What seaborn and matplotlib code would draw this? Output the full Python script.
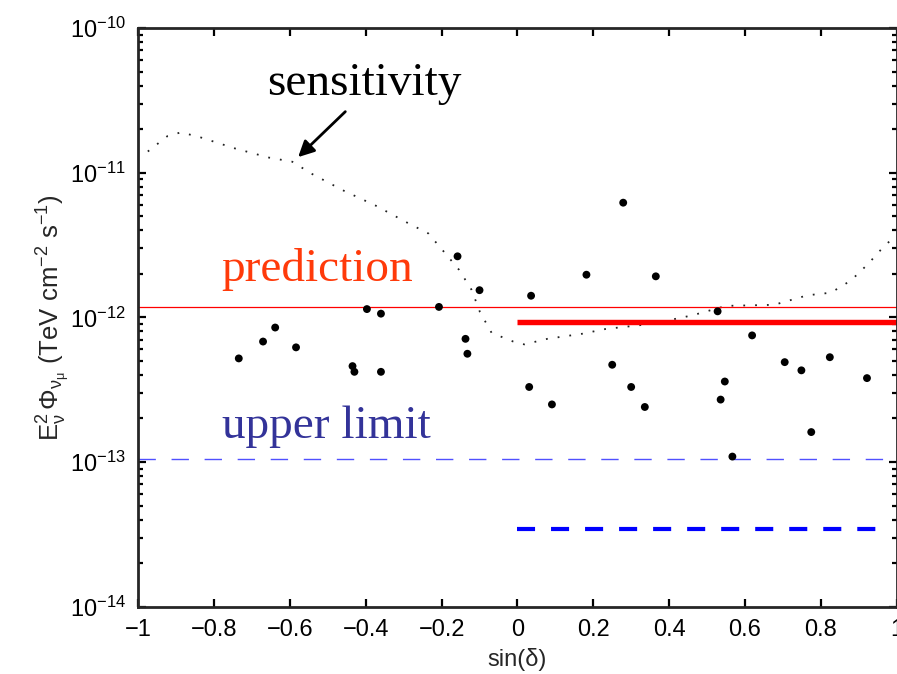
import numpy as np
import pandas as pd
import matplotlib
matplotlib.use("Agg")
import matplotlib.pyplot as plt
import seaborn as sns
from matplotlib.ticker import LogLocator, NullLocator, FixedLocator

# source points: sin(declination) and E^2 flux upper limit (TeV cm^-2 s^-1)
src_sindec = [-0.735, -0.671, -0.639, -0.584, -0.435, -0.430, -0.397, -0.360, -0.360,
              -0.207, -0.158, -0.100, -0.137, -0.132, 0.036, 0.182, 0.279, 0.365,
              0.031, 0.091, 0.250, 0.300, 0.336, 0.528, 0.619, 0.547, 0.536, 0.567,
              0.705, 0.749, 0.824, 0.775, 0.922]
src_flux = [5.2e-13, 6.8e-13, 8.5e-13, 6.2e-13, 4.6e-13, 4.2e-13, 1.14e-12, 1.06e-12, 4.2e-13,
            1.18e-12, 2.64e-12, 1.54e-12, 7.1e-13, 5.6e-13, 1.41e-12, 1.97e-12, 6.2e-12, 1.92e-12,
            3.3e-13, 2.5e-13, 4.7e-13, 3.3e-13, 2.4e-13, 1.10e-12, 7.5e-13, 3.6e-13, 2.7e-13, 1.09e-13,
            4.9e-13, 4.3e-13, 5.3e-13, 1.61e-13, 3.8e-13]

# sensitivity curve
sens_sindec = [-0.975, -0.923, -0.887, -0.835, -0.745, -0.655, -0.594, -0.542, -0.458,
               -0.373, -0.290, -0.235, -0.194, -0.154, -0.121, -0.099, -0.068, -0.011,
               0.018, 0.079, 0.171, 0.232, 0.352, 0.460, 0.551, 0.677, 0.765, 0.827,
               0.880, 0.925, 0.967, 0.995]
sens_flux = [1.40e-11, 1.79e-11, 1.90e-11, 1.75e-11, 1.47e-11, 1.27e-11, 1.19e-11, 9.8e-12, 7.5e-12,
             5.9e-12, 4.5e-12, 3.8e-12, 2.84e-12, 2.13e-12, 1.55e-12, 1.09e-12, 7.8e-13, 6.8e-13,
             6.5e-13, 7.1e-13, 7.7e-13, 8.3e-13, 9.0e-13, 1.03e-12, 1.20e-12, 1.22e-12, 1.42e-12, 1.48e-12,
             1.80e-12, 2.34e-12, 3.10e-12, 3.6e-12]

pred_level = 1.18e-12      # prediction, full sky
pred_stack = 9.3e-13       # prediction, northern stack
ul_level = 1.05e-13        # upper limit, full sky
ul_stack = 3.45e-14        # upper limit, northern stack

x_ticks = [-1, -0.8, -0.6, -0.4, -0.2, 0, 0.2, 0.4, 0.6, 0.8, 1]
x_ticklabels = ["\u22121", "\u22120.8", "\u22120.6", "\u22120.4", "\u22120.2", "0", "0.2", "0.4", "0.6", "0.8", "1"]
y_ticks = [1e-14, 1e-13, 1e-12, 1e-11, 1e-10]

df = pd.DataFrame({"sindec": src_sindec, "flux": src_flux})
sens = pd.DataFrame({"sindec": sens_sindec, "flux": sens_flux})

sns.set_style("ticks")
plt.rcParams["font.family"] = ["Liberation Sans", "DejaVu Sans"]
plt.rcParams["mathtext.fontset"] = "custom"
plt.rcParams["mathtext.rm"] = "Liberation Sans"
plt.rcParams["mathtext.it"] = "Liberation Sans:italic"
plt.rcParams["lines.scale_dashes"] = False

fig = plt.figure(figsize=(8.97, 6.74), dpi=100)
ax = fig.add_axes([0.1542, 0.0999, 0.8453, 0.8586])

sns.lineplot(data=sens, x="sindec", y="flux", sort=False, estimator=None, ax=ax,
             color="#222222", lw=1.3, linestyle=(0, (1.3, 7.2)))
ax.axhline(pred_level, color="#ff0000", lw=0.9)
ax.plot([0, 1], [pred_stack, pred_stack], color="#ff0000", lw=3.9, solid_capstyle="butt")
ax.axhline(ul_level, color="#5050ff", lw=1.0, linestyle=(0, (12.5, 11.3)))
ax.plot([0, 0.97], [ul_stack, ul_stack], color="#0000ff", lw=3.0, linestyle=(0, (13, 11.5)))
sns.scatterplot(data=df, x="sindec", y="flux", ax=ax, color="black", s=32,
                edgecolor="none", zorder=5)

ax.set_yscale("log")
ax.set_xlim(-1, 1)
ax.set_ylim(1e-14, 1e-10)
ax.xaxis.set_major_locator(FixedLocator(x_ticks))
ax.set_xticklabels(x_ticklabels)
ax.xaxis.set_minor_locator(NullLocator())
ax.yaxis.set_major_locator(FixedLocator(y_ticks))
ax.yaxis.set_minor_locator(LogLocator(base=10, subs=np.arange(2, 10), numticks=10))

for s in ax.spines.values():
    s.set_linewidth(2.0)
    s.set_visible(True)
ax.tick_params(which="both", direction="in", top=True, right=True, width=1.6,
               labelsize=17, colors="black")
ax.tick_params(which="major", length=6, pad=9)
ax.tick_params(which="minor", length=3.5)

ax.set_xlabel("sin(\u03b4)", fontsize=17)
ax.set_ylabel(r"$\mathregular{E_{\nu}^{2}\,\Phi_{\nu_{\mu}}}$ (TeV cm$^{-2}$ s$^{-1}$)", fontsize=18.5)
ax.xaxis.set_label_coords(0.5, -0.072)
ax.yaxis.set_label_coords(-0.088, 0.5)

serif = ["Liberation Serif", "DejaVu Serif"]
ax.text(-0.661, 3.44e-11, "sensitivity", family=serif, fontsize=34, color="black", va="baseline")
ax.text(-0.780, 1.77e-12, "prediction", family=serif, fontsize=34, color="#ff3a0a", va="baseline")
ax.text(-0.780, 1.46e-13, "upper limit", family=serif, fontsize=34, color="#333399", va="baseline")
ax.annotate("", xy=(-0.5785, 1.28e-11), xytext=(-0.454, 2.64e-11),
            arrowprops=dict(arrowstyle="-|>", mutation_scale=24, lw=2, color="black",
                            shrinkA=0, shrinkB=0))

fig.savefig("out.png", dpi=100)
